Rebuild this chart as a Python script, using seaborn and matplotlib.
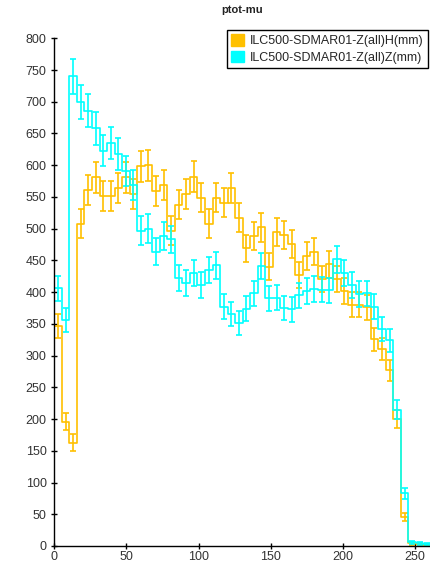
import numpy as np
import pandas as pd
import matplotlib
matplotlib.use("Agg")
import matplotlib.pyplot as plt
import seaborn as sns
from matplotlib.patches import Patch

# ---------------- data ----------------
title = "ptot-mu"
series_names = ["ILC500-SDMAR01-Z(all)H(mm)", "ILC500-SDMAR01-Z(all)Z(mm)"]
series_colors = ["#FFC000", "#00FFFF"]

# histogram range and binning of ptot (50 bins)
x_min, x_max, n_bins = 0, 261, 50

# bin contents, series H (orange)
h_counts = [347, 196, 163, 508, 561, 581, 551, 551, 564, 581,
            554, 598, 600, 560, 569, 497, 538, 554, 582, 549,
            508, 549, 541, 564, 517, 469, 489, 502, 440, 495,
            490, 476, 427, 457, 464, 421, 444, 420, 402, 380,
            380, 376, 326, 310, 277, 200, 46, 4, 3, 2]
# bin contents, series Z (cyan)
z_counts = [406, 356, 740, 700, 686, 658, 623, 635, 618, 591,
            569, 497, 500, 464, 488, 483, 423, 414, 430, 411,
            435, 442, 377, 366, 352, 374, 398, 441, 390, 391,
            375, 373, 395, 402, 405, 404, 403, 452, 430, 411,
            397, 398, 377, 342, 324, 215, 83, 6, 4, 3]

x_ticks = [0, 50, 100, 150, 200, 250]
y_ticks = list(range(0, 801, 50))
y_max = 800

# ---------------- plotting ----------------
sns.set_theme(style="ticks")
plt.rcParams["font.family"] = ["Liberation Sans", "DejaVu Sans"]

edges = np.linspace(x_min, x_max, n_bins + 1)
centers = 0.5 * (edges[:-1] + edges[1:])

df = pd.DataFrame({
    "ptot": np.concatenate([centers, centers]),
    "count": h_counts + z_counts,
    "series": [series_names[0]] * n_bins + [series_names[1]] * n_bins,
})

W, H = 431, 565
fig = plt.figure(figsize=(W / 100, H / 100), dpi=100)
ax = fig.add_axes([54.3 / W, 19 / H, (W - 54.3) / W, (546 - 38.3) / H])

for name, color in zip(series_names, series_colors):
    sub = df[df["series"] == name]
    sns.histplot(data=sub, x="ptot", weights="count", bins=n_bins,
                 binrange=(x_min, x_max),
                 element="step", fill=False, color=color, linewidth=1.2,
                 ax=ax)
    ax.errorbar(sub["ptot"], sub["count"], yerr=np.sqrt(sub["count"]),
                fmt="none", ecolor=color, elinewidth=1.2, capsize=2.4,
                capthick=1.2)

ax.set_xlim(x_min, x_max)
ax.set_ylim(0, y_max)
ax.set_xticks(x_ticks)
ax.set_yticks(y_ticks)
ax.set_xlabel("")
ax.set_ylabel("")
for s in ["top", "right"]:
    ax.spines[s].set_visible(False)
for s in ["left", "bottom"]:
    ax.spines[s].set_color("black")
    ax.spines[s].set_linewidth(1.0)
ax.tick_params(direction="inout", length=5, width=1, color="black",
               labelsize=9, labelcolor="#333333", pad=3)
ax.tick_params(axis="x", pad=0.8)
ax.grid(False)

fig.text(242.5 / W, 1 - 10 / H, title, ha="center", va="center",
         fontsize=8, fontweight="bold", color="#222222")

handles = [Patch(facecolor=c, edgecolor=c) for c in series_colors]
leg = fig.legend(handles, series_names, loc="upper right",
                 bbox_to_anchor=(428 / W, 1 - 30 / H), frameon=True,
                 fancybox=False, framealpha=1, edgecolor="black",
                 fontsize=9, handlelength=1.0, handleheight=1.0,
                 borderpad=0.35, labelspacing=0.3, handletextpad=0.5,
                 borderaxespad=0)
leg.get_frame().set_linewidth(1.0)

fig.savefig("out.png", dpi=100)
